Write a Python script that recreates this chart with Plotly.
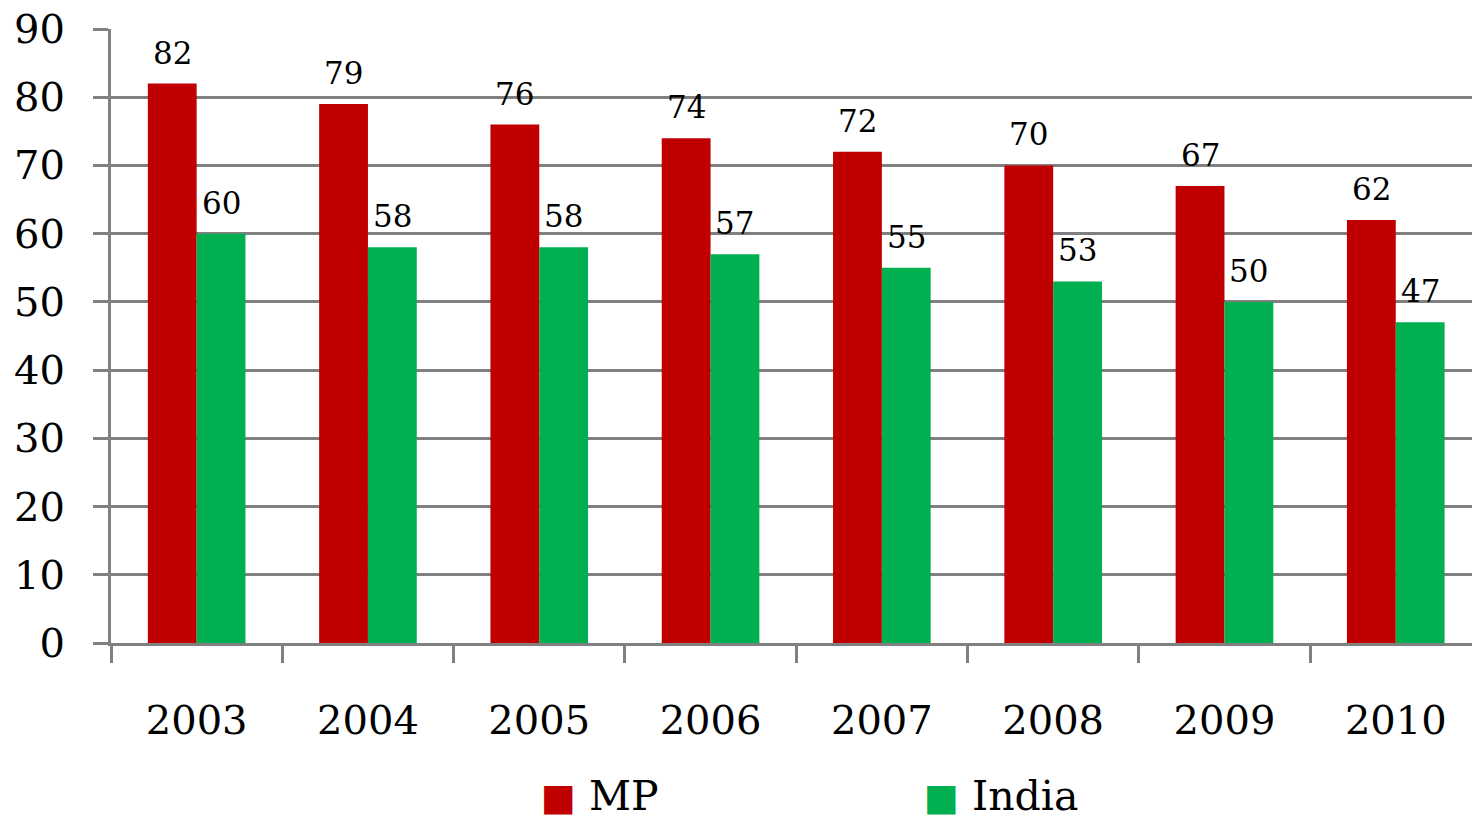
import plotly.graph_objects as go

years = ["2003", "2004", "2005", "2006", "2007", "2008", "2009", "2010"]
mp_values = [82, 79, 76, 74, 72, 70, 67, 62]
india_values = [60, 58, 58, 57, 55, 53, 50, 47]
series_names = ["MP", "India"]
series_colors = ["#C00000", "#00B050"]

FONT = "DejaVu Serif"
GRID = "#808080"
BARGAP = 0.43

fig = go.Figure()
series_values = [mp_values, india_values]
for name, vals, color in zip(series_names, series_values, series_colors):
    fig.add_trace(go.Bar(
        x=years, y=vals, name=name,
        marker=dict(color=color, line=dict(width=0)),
        showlegend=False,
    ))

# value labels above each bar (bars of a group sit side by side, each (1-gap)/2 wide)
bar_w = (1 - BARGAP) / len(series_names)
for s, vals in enumerate(series_values):
    offset = (s - (len(series_names) - 1) / 2) * bar_w
    for i, v in enumerate(vals):
        fig.add_annotation(
            xref="x", yref="y", x=i + offset, y=v,
            xanchor="center", yanchor="bottom", yshift=11,
            showarrow=False, text=str(v),
            font=dict(family=FONT, size=31, color="black"),
        )

# legend drawn as text: coloured square glyph followed by the series name
legend_x = [0.359, 0.654]
for name, color, lx in zip(series_names, series_colors, legend_x):
    fig.add_annotation(
        xref="paper", yref="paper", x=lx, y=-0.249,
        xanchor="center", yanchor="middle", showarrow=False,
        text=f"<span style='color:{color};font-family:DejaVu Sans;font-size:37px'>■</span> {name}",
        font=dict(family=FONT, size=41, color="black"),
    )

fig.update_layout(
    width=1472, height=821,
    margin=dict(l=111, r=0, t=29, b=178),
    paper_bgcolor="white", plot_bgcolor="white",
    barmode="group", bargap=BARGAP, bargroupgap=0,
    font=dict(family=FONT, color="black"),
)
fig.update_xaxes(
    type="category", range=[-0.5, 7.445],
    showline=True, linecolor=GRID, linewidth=3,
    ticks="outside", tickson="boundaries", ticklen=17, tickwidth=3, tickcolor=GRID,
    tickfont=dict(family=FONT, size=40), ticklabelstandoff=40,
    showgrid=False,
)
fig.update_yaxes(
    range=[0, 90], dtick=10,
    showgrid=True, gridcolor=GRID, gridwidth=3,
    showline=True, linecolor=GRID, linewidth=3,
    zeroline=False,
    ticks="outside", ticklen=15, tickwidth=3, tickcolor=GRID,
    tickfont=dict(family=FONT, size=40), ticklabelstandoff=20,
)

fig.write_html("out.html")
